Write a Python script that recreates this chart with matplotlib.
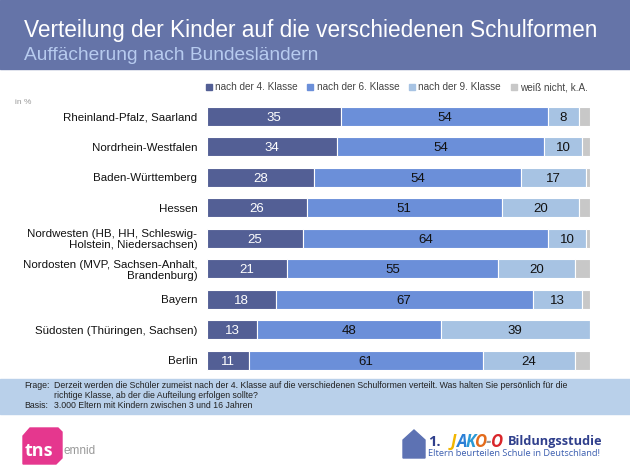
import matplotlib.pyplot as plt
from matplotlib.patches import Rectangle, Polygon
from matplotlib.lines import Line2D

plt.rcParams['font.family'] = ['Liberation Sans', 'DejaVu Sans']

regions = ['Rheinland-Pfalz, Saarland', 'Nordrhein-Westfalen', 'Baden-Württemberg',
           'Hessen', 'Nordwesten (HB, HH, Schleswig-\nHolstein, Niedersachsen)',
           'Nordosten (MVP, Sachsen-Anhalt,\nBrandenburg)', 'Bayern',
           'Südosten (Thüringen, Sachsen)', 'Berlin']
nach_4 = [35, 34, 28, 26, 25, 21, 18, 13, 11]
nach_6 = [54, 54, 54, 51, 64, 55, 67, 48, 61]
nach_9 = [8, 10, 17, 20, 10, 20, 13, 39, 24]
weiss_nicht = [3, 2, 1, 3, 1, 4, 2, 1, 4]
series_names = ['nach der 4. Klasse', 'nach der 6. Klasse', 'nach der 9. Klasse', 'weiß nicht, k.A.']
colors = ['#535f95', '#6b8fd9', '#a7c3e3', '#c8c8c8']
label_colors = ['white', '#111111', '#111111', None]

W, H = 630, 472
fig = plt.figure(figsize=(W / 100, H / 100), dpi=100)

# header band
fig.patches.append(Rectangle((0, 1 - 69 / H), 1, 69 / H, transform=fig.transFigure,
                             color='#6574a8', zorder=0))
fig.text(24 / W, 1 - 30 / H, 'Verteilung der Kinder auf die verschiedenen Schulformen',
         color='white', fontsize=16.3, va='center')
fig.text(24 / W, 1 - 56 / H, 'Auffächerung nach Bundesländern',
         color='#b7cbef', fontsize=13.8, va='center')

# main bars
ax = fig.add_axes([207 / W, 1 - 375.5 / H, 383 / W, 274.5 / H])
ypos = list(range(len(regions)))
left = [0] * len(regions)
for vals, col, lc in zip([nach_4, nach_6, nach_9, weiss_nicht], colors, label_colors):
    ax.barh(ypos, vals, left=left, height=0.62, color=col, edgecolor='white', linewidth=0.8)
    if lc:
        for y, l, v in zip(ypos, left, vals):
            ax.text(l + v / 2, y, str(v), ha='center', va='center_baseline', color=lc, fontsize=9.5)
    left = [a + b for a, b in zip(left, vals)]

ax.set_xlim(0, 100)
ax.set_ylim(len(regions) - 0.5, -0.5)
ax.set_yticks(ypos)
ax.set_yticklabels(regions, fontsize=8.25, color='#111111', linespacing=1.15)
ax.set_xticks([])
ax.tick_params(axis='y', length=0, pad=7)
for s in ax.spines.values():
    s.set_visible(False)

fig.text(15 / W, 1 - 103 / H, 'in %', color='#999999', fontsize=6, va='center')

# legend
handles = [Line2D([], [], marker='s', linestyle='', color=c, markersize=4.5) for c in colors]
fig.legend(handles, series_names, loc='center right', bbox_to_anchor=(593 / W, 1 - 87 / H),
           ncol=4, frameon=False, fontsize=7.2, handlelength=0.7, handletextpad=0.3,
           columnspacing=0.9, labelcolor='#444444', borderpad=0)

# footer band
fig.patches.append(Rectangle((0, 1 - 414 / H), 1, 35 / H, transform=fig.transFigure,
                             color='#b9d0ea', zorder=0))
fig.text(24 / W, 1 - 385 / H, 'Frage:', fontsize=6.3, color='#222222', va='center')
fig.text(54 / W, 1 - 385 / H,
         'Derzeit werden die Schüler zumeist nach der 4. Klasse auf die verschiedenen Schulformen verteilt. '
         'Was halten Sie persönlich für die', fontsize=6.3, color='#222222', va='center')
fig.text(54 / W, 1 - 396 / H, 'richtige Klasse, ab der die Aufteilung erfolgen sollte?',
         fontsize=6.3, color='#222222', va='center')
fig.text(24 / W, 1 - 406 / H, 'Basis:', fontsize=6.3, color='#222222', va='center')
fig.text(54 / W, 1 - 406 / H, '3.000 Eltern mit Kindern zwischen 3 und 16 Jahren',
         fontsize=6.3, color='#222222', va='center')

# tns emnid logo
fig.patches.append(Polygon([(23 / W, 1 - 436 / H), (30 / W, 1 - 428 / H), (58 / W, 1 - 428 / H),
                            (62 / W, 1 - 432 / H), (62 / W, 1 - 458 / H), (56 / W, 1 - 464 / H),
                            (23 / W, 1 - 464 / H)],
                           closed=True, transform=fig.transFigure, color='#e5378e'))
fig.text(25 / W, 1 - 451 / H, 'tns', color='white', fontsize=13, fontweight='bold', va='center',
         family='Open Sans')
fig.text(63 / W, 1 - 451 / H, 'emnid', color='#999999', fontsize=8.5, va='center')

# JAKO-O logo
fig.patches.append(Polygon([(403 / W, 1 - 440 / H), (414 / W, 1 - 430 / H), (425 / W, 1 - 440 / H),
                            (425 / W, 1 - 458 / H), (403 / W, 1 - 458 / H)],
                           closed=True, transform=fig.transFigure, color='#5d72b3'))
fig.text(428 / W, 1 - 442 / H, '1.', color='#2f3f8c', fontsize=10.5, fontweight='bold', va='center',
         family='Open Sans')
for ch, x, c in zip('JAKO-O', [451, 457, 466, 475, 486, 491],
                    ['#f2b600', '#2b7fd6', '#2b9ad6', '#e36b1c', '#999999', '#d9262b']):
    fig.text(x / W, 1 - 442 / H, ch, color=c, fontsize=12, fontweight='bold', va='center',
             style='italic', family='Open Sans')
fig.text(508 / W, 1 - 442 / H, 'Bildungsstudie', color='#2f3f8c', fontsize=9.2,
         fontweight='bold', va='center', family='Open Sans')
fig.text(428 / W, 1 - 454 / H, 'Eltern beurteilen Schule in Deutschland!', color='#3c5fb0',
         fontsize=6.7, va='center', family='Open Sans')

fig.savefig('out.png', dpi=100)
